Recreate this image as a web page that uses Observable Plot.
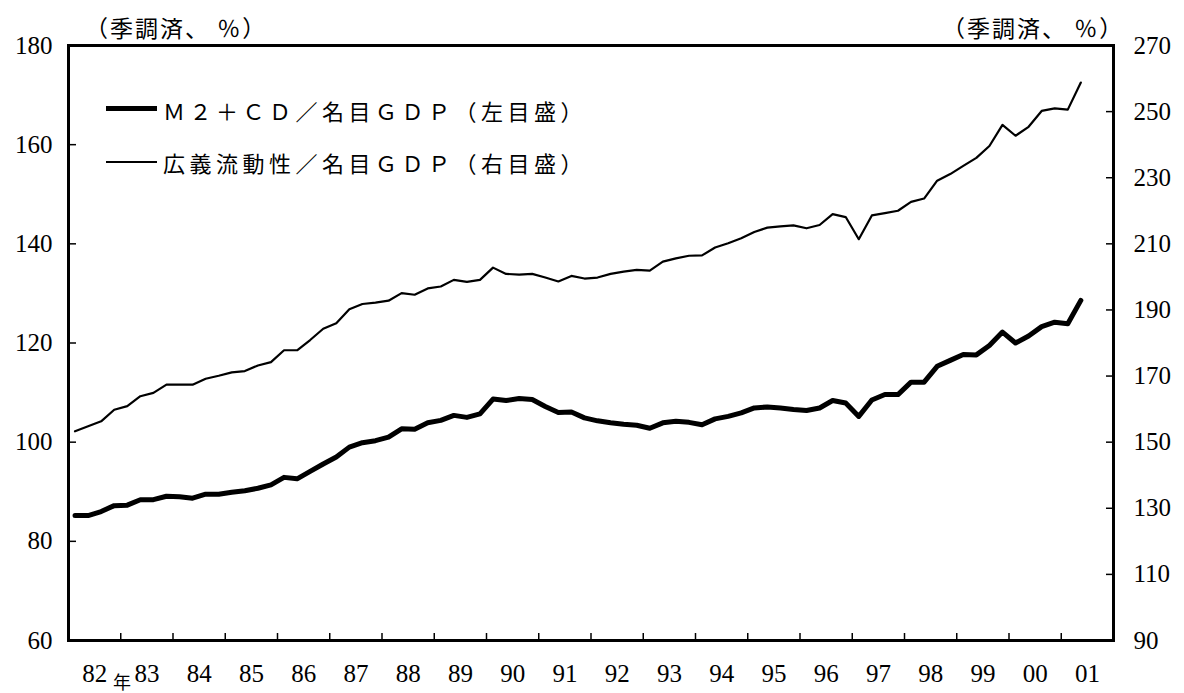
<!DOCTYPE html>
<html><head><meta charset="utf-8">
<script src="https://cdn.jsdelivr.net/npm/d3@7"></script>
<script src="https://cdn.jsdelivr.net/npm/@observablehq/plot@0.6"></script>
<style>
html,body{margin:0;padding:0;background:#fff;}
#wrap{position:relative;width:1184px;height:693px;overflow:hidden;}
.jp{position:absolute;font-family:"Noto Sans CJK JP","Noto Sans CJK SC",sans-serif;color:#000;white-space:nowrap;}
.unit{font-size:23px;line-height:23px;letter-spacing:2px;}
.nen{font-size:18px;line-height:18px;}
.leg{font-size:22px;line-height:26px;letter-spacing:4.5px;}
.sw{position:absolute;background:#000;}
</style></head><body><div id="wrap"></div>
<script>
// Quarterly data, 1982 Q1 – 2001 Q2 (seasonally adjusted, %)
const firstYear = 1982;
const m2cdRatio = [
  85.2, 85.2, 86.0, 87.2,   87.3, 88.4, 88.4, 89.1,   89.0, 88.7, 89.5, 89.5,
  89.9, 90.2, 90.7, 91.4,   92.9, 92.6, 94.1, 95.6,   97.0, 99.0, 99.9, 100.3,
  101.0, 102.7, 102.6, 103.9, 104.4, 105.4, 105.0, 105.7, 108.7, 108.4, 108.8, 108.6,
  107.2, 106.0, 106.1, 104.9, 104.3, 103.9, 103.6, 103.4, 102.8, 103.9, 104.2, 104.0,
  103.5, 104.7, 105.2, 105.9, 106.9, 107.1, 106.9, 106.6, 106.4, 106.9, 108.4, 107.9,
  105.2, 108.5, 109.6, 109.6, 112.1, 112.1, 115.3, 116.5, 117.7, 117.6, 119.5, 122.2,
  120.0, 121.4, 123.3, 124.2, 123.9, 128.6
];
const broadLiquidityRatio = [
  153.3, 154.8, 156.3, 159.8, 160.9, 163.9, 164.9, 167.4, 167.4, 167.4, 169.2, 170.1,
  171.1, 171.5, 173.2, 174.2, 177.8, 177.8, 180.9, 184.3, 186.0, 190.2, 191.8, 192.2,
  192.8, 195.1, 194.6, 196.5, 197.1, 199.1, 198.5, 199.1, 202.8, 200.9, 200.7, 200.9,
  199.8, 198.6, 200.3, 199.5, 199.8, 200.9, 201.6, 202.1, 201.9, 204.6, 205.6, 206.4,
  206.5, 208.9, 210.2, 211.7, 213.6, 214.9, 215.3, 215.6, 214.7, 215.7, 219.0, 218.1,
  211.4, 218.6, 219.3, 220.0, 222.7, 223.7, 229.1, 231.1, 233.6, 236.0, 239.6, 246.0,
  242.7, 245.4, 250.2, 251.0, 250.6, 258.8
];
const leftTicks = [60, 80, 100, 120, 140, 160, 180];
const rightTicks = [90, 110, 130, 150, 170, 190, 210, 230, 250, 270];
const yearTicks = [1983,1984,1985,1986,1987,1988,1989,1990,1991,1992,1993,1994,1995,1996,1997,1998,1999,2000,2001];
const yearLabelYears = [1982,1983,1984,1985,1986,1987,1988,1989,1990,1991,1992,1993,1994,1995,1996,1997,1998,1999,2000,2001];
const yearLabels = ["82","83","84","85","86","87","88","89","90","91","92","93","94","95","96","97","98","99","00","01"];
const seriesNames = ["Ｍ２＋ＣＤ／名目ＧＤＰ（左目盛）", "広義流動性／名目ＧＤＰ（右目盛）"];
const unitLabel = "（季調済、 ％）";
const yearUnit = "年";

// right axis (90–270) maps linearly onto the left axis (60–180)
const toLeft = r => 60 + (r - 90) / 1.5;
const toRight = l => Math.round(90 + (l - 60) * 1.5);

const rows = m2cdRatio.map((v, i) => ({t: firstYear + (i + 0.5) / 4, m2: v, broad: broadLiquidityRatio[i]}));

const plot = Plot.plot({
  width: 1184, height: 693,
  marginLeft: 68, marginRight: 71, marginTop: 45, marginBottom: 53,
  x: {domain: [1982, 2002]},
  y: {domain: [60, 180]},
  style: {fontFamily: "'Liberation Serif', serif", fontSize: "25px", color: "#000", background: "#fff", overflow: "visible"},
  marks: [
    Plot.axisY({ticks: leftTicks, tickSize: -8, strokeWidth: 1.5, tickFormat: () => "", label: null}),
    Plot.axisY({ticks: leftTicks, tickSize: 0, tickPadding: 16, label: null, fontSize: 25}),
    Plot.axisY({anchor: "right", ticks: rightTicks.map(toLeft), tickSize: -8, strokeWidth: 1.5, tickFormat: () => "", label: null}),
    Plot.axisY({anchor: "right", ticks: rightTicks.map(toLeft), tickSize: 0, tickPadding: 20, tickFormat: toRight, label: null, fontSize: 25}),
    Plot.axisX({ticks: yearTicks, tickSize: -7, strokeWidth: 1.5, tickFormat: () => "", label: null}),
    Plot.axisX({ticks: yearLabelYears.map(y => y + 0.5), tickSize: 0, tickPadding: 24,
      tickFormat: d => yearLabels[yearLabelYears.indexOf(Math.round(d - 0.5))], label: null, fontSize: 25}),
    Plot.line(rows, {x: "t", y: d => toLeft(d.broad), stroke: "#000", strokeWidth: 2.2, strokeLinejoin: "round"}),
    Plot.line(rows, {x: "t", y: "m2", stroke: "#000", strokeWidth: 5, strokeLinejoin: "round"}),
    Plot.frame({stroke: "#000", strokeWidth: 3})
  ]
});

const wrap = document.getElementById("wrap");
wrap.appendChild(plot);

function addText(cls, text, left, top) {
  const d = document.createElement("div");
  d.className = "jp " + cls;
  d.textContent = text;
  d.style.left = left + "px";
  d.style.top = top + "px";
  wrap.appendChild(d);
}
function addSwatch(left, top, w, h) {
  const d = document.createElement("div");
  d.className = "sw";
  Object.assign(d.style, {left: left + "px", top: top + "px", width: w + "px", height: h + "px"});
  wrap.appendChild(d);
}
addText("unit", unitLabel, 85, 16);
addText("unit", unitLabel, 942, 16);
addText("nen", yearUnit, 113, 672);
addSwatch(106, 105.5, 51, 5);
addText("leg", seriesNames[0], 163, 97);
addSwatch(106, 161, 51, 2.2);
addText("leg", seriesNames[1], 163, 149);
</script></body></html>
